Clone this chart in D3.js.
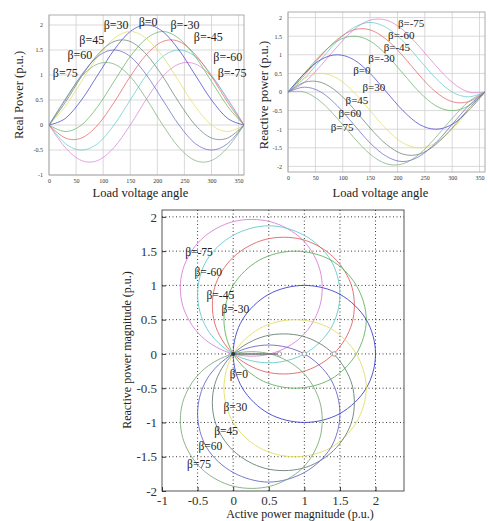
<!DOCTYPE html>
<html lang="en">
  <head>
    <meta charset="UTF-8" />
    <title>Power vs load voltage angle</title>
    <script src="https://d3js.org/d3.v7.min.js"></script>
    <style>
      body { margin: 0; background: #fff; }
      svg { display: block; font-family: "Liberation Serif", "DejaVu Serif", serif; }
      .line { fill: none; stroke-width: 1px; }
      .tick text { fill: #333; }
    </style>
  </head>
  <body>
    <svg width="488" height="521"></svg>
    <script>
      // load voltage angle samples (deg)
      const angles = [0, 30, 60, 90, 120, 150, 180, 210, 240, 270, 300, 330, 360];
      const betas = [-75, -60, -45, -30, 0, 30, 45, 60, 75];
      const betaLabels = ["β=-75", "β=-60", "β=-45", "β=-30", "β=0", "β=30", "β=45", "β=60", "β=75"];
      const colors = ["#d77ad7", "#5cc8c8", "#e05a5a", "#58b058", "#3838c8", "#e0dc5a", "#5f7a6a", "#6060c8", "#78a878"];

      // real power (p.u.) read at each angle, one row per beta
      const realPower = [
        [0, -0.45, -0.71, -0.71, -0.45, 0, 0.52, 0.97, 1.22, 1.22, 0.97, 0.52, 0],
        [0, -0.37, -0.5, -0.37, 0, 0.5, 1, 1.37, 1.5, 1.37, 1, 0.5, 0],
        [0, -0.26, -0.26, 0, 0.45, 0.97, 1.41, 1.67, 1.67, 1.41, 0.97, 0.45, 0],
        [0, -0.13, 0, 0.37, 0.87, 1.37, 1.73, 1.87, 1.73, 1.37, 0.87, 0.37, 0],
        [0, 0.13, 0.5, 1, 1.5, 1.87, 2, 1.87, 1.5, 1, 0.5, 0.13, 0],
        [0, 0.37, 0.87, 1.37, 1.73, 1.87, 1.73, 1.37, 0.87, 0.37, 0, -0.13, 0],
        [0, 0.45, 0.97, 1.41, 1.67, 1.67, 1.41, 0.97, 0.45, 0, -0.26, -0.26, 0],
        [0, 0.5, 1, 1.37, 1.5, 1.37, 1, 0.5, 0, -0.37, -0.5, -0.37, 0],
        [0, 0.52, 0.97, 1.22, 1.22, 0.97, 0.52, 0, -0.45, -0.71, -0.71, -0.45, 0]
      ];
      // reactive power (p.u.) read at each angle, one row per beta
      const reactivePower = [
        [0, 0.26, 0.71, 1.22, 1.67, 1.93, 1.93, 1.67, 1.22, 0.71, 0.26, 0, 0],
        [0, 0.37, 0.87, 1.37, 1.73, 1.87, 1.73, 1.37, 0.87, 0.37, 0, -0.13, 0],
        [0, 0.45, 0.97, 1.41, 1.67, 1.67, 1.41, 0.97, 0.45, 0, -0.26, -0.26, 0],
        [0, 0.5, 1, 1.37, 1.5, 1.37, 1, 0.5, 0, -0.37, -0.5, -0.37, 0],
        [0, 0.5, 0.87, 1, 0.87, 0.5, 0, -0.5, -0.87, -1, -0.87, -0.5, 0],
        [0, 0.37, 0.5, 0.37, 0, -0.5, -1, -1.37, -1.5, -1.37, -1, -0.5, 0],
        [0, 0.26, 0.26, 0, -0.45, -0.97, -1.41, -1.67, -1.67, -1.41, -0.97, -0.45, 0],
        [0, 0.13, 0, -0.37, -0.87, -1.37, -1.73, -1.87, -1.73, -1.37, -0.87, -0.37, 0],
        [0, 0, -0.26, -0.71, -1.22, -1.67, -1.93, -1.93, -1.67, -1.22, -0.71, -0.26, 0]
      ];

      // small markers on the Q=0 line of the circle plot
      const markerP = [0.65, 1.0, 1.42];

      const angleTicks = [0, 50, 100, 150, 200, 250, 300, 350];
      const realTicks = [-1, -0.5, 0, 0.5, 1, 1.5, 2];
      const reactTicks = [-2, -1.5, -1, -0.5, 0, 0.5, 1, 1.5, 2];
      const pTicks = [-1, -0.5, 0, 0.5, 1, 1.5, 2];
      const qTicks = [-2, -1.5, -1, -0.5, 0, 0.5, 1, 1.5, 2];

      // label anchors in data units [x, y], same order as betas
      const labelsReal = [[338, 1.04], [330, 1.36], [294, 1.76], [251, 2.0], [183, 2.07], [124, 2.0], [79, 1.7], [57, 1.4], [30, 1.04]];
      const labelsReact = [[225, 1.86], [207, 1.52], [199, 1.2], [171, 0.92], [135, 0.59], [157, 0.13], [126, -0.22], [113, -0.56], [99, -0.94]];
      const labelsPQ = [[-0.48, 1.49], [-0.35, 1.2], [-0.18, 0.86], [0.03, 0.66], [0.08, -0.29], [0.03, -0.77], [-0.1, -1.12], [-0.32, -1.34], [-0.48, -1.6]];

      const svg = d3.select("svg");
      const fmt = d => (d === 0 ? "0" : String(d));

      function anglePlot(opts) {
        const X = d3.scaleLinear().domain([0, 360]).range(opts.xr);
        const Y = d3.scaleLinear().domain(opts.yd).range(opts.yr);
        const g = svg.append("g");
        const w = opts.xr[1] - opts.xr[0], h = opts.yr[0] - opts.yr[1];

        g.append("defs").append("clipPath").attr("id", opts.id)
          .append("rect").attr("x", opts.xr[0]).attr("y", opts.yr[1]).attr("width", w).attr("height", h);

        // grid
        g.selectAll(".gx").data(angleTicks).enter().append("line")
          .attr("x1", d => X(d)).attr("x2", d => X(d))
          .attr("y1", opts.yr[0]).attr("y2", opts.yr[1])
          .attr("stroke", "#cfcfcf").attr("stroke-width", 0.8);
        g.selectAll(".gy").data(opts.yticks).enter().append("line")
          .attr("x1", opts.xr[0]).attr("x2", opts.xr[1])
          .attr("y1", d => Y(d)).attr("y2", d => Y(d))
          .attr("stroke", "#cfcfcf").attr("stroke-width", 0.8);

        const ax = g.append("g").attr("transform", `translate(0,${opts.yr[0]})`)
          .call(d3.axisBottom(X).tickValues(angleTicks).tickSize(0).tickPadding(4).tickFormat(fmt));
        ax.select(".domain").remove();
        ax.selectAll("text").attr("font-size", 6).attr("font-family", "Liberation Serif");
        const ay = g.append("g").attr("transform", `translate(${opts.xr[0]},0)`)
          .call(d3.axisLeft(Y).tickValues(opts.yticks).tickSize(0).tickPadding(6).tickFormat(fmt));
        ay.select(".domain").remove();
        ay.selectAll("text").attr("font-size", 6).attr("font-family", "Liberation Serif");

        g.append("rect").attr("x", opts.xr[0]).attr("y", opts.yr[1]).attr("width", w).attr("height", h)
          .attr("fill", "none").attr("stroke", "#999").attr("stroke-width", 0.8);

        const line = d3.line().x((d, i) => X(angles[i])).y(d => Y(d)).curve(d3.curveCardinal.tension(0));
        g.append("g").attr("clip-path", `url(#${opts.id})`)
          .selectAll("path").data(opts.series).enter().append("path")
          .attr("class", "line")
          .attr("d", d => line(d))
          .attr("stroke", (d, i) => colors[i])
          .attr("opacity", 0.7);

        g.selectAll(".lbl").data(opts.labels).enter().append("text")
          .attr("x", d => X(d[0])).attr("y", d => Y(d[1])).attr("dy", "0.35em")
          .attr("text-anchor", "middle").attr("font-size", opts.lfs).attr("fill", "#222")
          .text((d, i) => betaLabels[i]);

        g.append("text").attr("x", (opts.xr[0] + opts.xr[1]) / 2 - 6).attr("y", 197)
          .attr("text-anchor", "middle").attr("font-size", 12.5).attr("fill", "#222")
          .text("Load voltage angle");
        g.append("text").attr("transform", `translate(${opts.ylx},${opts.ylcy}) rotate(-90)`)
          .attr("text-anchor", "middle").attr("font-size", 12.5).attr("fill", "#222")
          .text(opts.ylabel);
      }

      anglePlot({ id: "clipA", xr: [49, 244], yd: [-1, 2.2], yr: [175, 15], yticks: realTicks, lfs: 12,
        series: realPower, labels: labelsReal, ylabel: "Real Power (p.u.)", ylx: 23, ylcy: 95 });
      anglePlot({ id: "clipB", xr: [288, 485], yd: [-2.15, 2.15], yr: [172, 12], yticks: reactTicks, lfs: 11,
        series: reactivePower, labels: labelsReact, ylabel: "Reactive power (p.u.)", ylx: 268, ylcy: 95 });

      // P-Q circle plot
      const PX = d3.scaleLinear().domain([-1, 2.4]).range([162, 404]);
      const QY = d3.scaleLinear().domain([-2, 2.1]).range([491, 210]);
      const b = svg.append("g");

      b.append("rect").attr("x", 162).attr("y", 210).attr("width", 242).attr("height", 281)
        .attr("fill", "#fff").attr("stroke", "#444").attr("stroke-width", 0.9);

      b.selectAll(".gpx").data(pTicks.filter(d => d > -1)).enter().append("line")
        .attr("x1", d => PX(d)).attr("x2", d => PX(d)).attr("y1", 491).attr("y2", 210)
        .attr("stroke", "#222").attr("stroke-width", 0.9).attr("stroke-dasharray", "1,2.5");
      b.selectAll(".gqy").data(qTicks.filter(d => d > -2)).enter().append("line")
        .attr("x1", 162).attr("x2", 404).attr("y1", d => QY(d)).attr("y2", d => QY(d))
        .attr("stroke", "#222").attr("stroke-width", 0.9).attr("stroke-dasharray", "1,2.5");

      const circ = d3.line().x(d => PX(d[0])).y(d => QY(d[1])).curve(d3.curveCardinalClosed.tension(0));
      b.selectAll(".circ").data(betas).enter().append("path")
        .attr("class", "line")
        .attr("d", (d, i) => circ(realPower[i].slice(0, 12).map((p, k) => [p, reactivePower[i][k]])))
        .attr("stroke", (d, i) => colors[i])
        .attr("opacity", 0.85);

      b.append("line").attr("x1", PX(0)).attr("x2", PX(markerP[0]))
        .attr("y1", QY(0)).attr("y2", QY(0)).attr("stroke", "#777").attr("stroke-width", 1.6);
      b.selectAll(".mk").data(markerP).enter().append("circle")
        .attr("cx", d => PX(d)).attr("cy", QY(0)).attr("r", 2.2)
        .attr("fill", "#fff").attr("stroke", "#888").attr("stroke-width", 0.8);
      b.append("circle").attr("cx", PX(0)).attr("cy", QY(0)).attr("r", 2).attr("fill", "#333");

      const bx = b.append("g").attr("transform", "translate(0,491)")
        .call(d3.axisBottom(PX).tickValues(pTicks).tickSize(-4).tickPadding(5).tickFormat(fmt));
      bx.select(".domain").remove();
      bx.selectAll("line").attr("stroke", "#333");
      bx.selectAll("text").attr("font-size", 13).attr("font-family", "Liberation Serif");
      const by = b.append("g").attr("transform", "translate(162,0)")
        .call(d3.axisLeft(QY).tickValues(qTicks).tickSize(-4).tickPadding(5).tickFormat(fmt));
      by.select(".domain").remove();
      by.selectAll("line").attr("stroke", "#333");
      by.selectAll("text").attr("font-size", 13).attr("font-family", "Liberation Serif");

      b.selectAll(".plbl").data(labelsPQ).enter().append("text")
        .attr("x", d => PX(d[0])).attr("y", d => QY(d[1])).attr("dy", "0.35em")
        .attr("text-anchor", "middle").attr("font-size", 11.5).attr("fill", "#222")
        .text((d, i) => betaLabels[i]);

      b.append("text").attr("x", 300).attr("y", 518).attr("text-anchor", "middle")
        .attr("font-size", 12).attr("fill", "#222").text("Active power magnitude (p.u.)");
      b.append("text").attr("transform", "translate(131,350) rotate(-90)")
        .attr("text-anchor", "middle").attr("font-size", 12).attr("fill", "#222")
        .text("Reactive power magnitude (p.u.)");
    </script>
  </body>
</html>
